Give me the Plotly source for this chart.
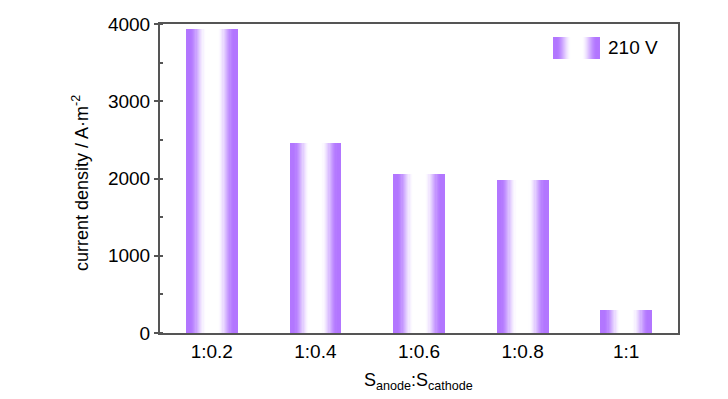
import plotly.graph_objects as go

categories = ["1:0.2", "1:0.4", "1:0.6", "1:0.8", "1:1"]
current_density = [3930, 2460, 2055, 1980, 300]
series_name = "210 V"
y_ticks = [0, 1000, 2000, 3000, 4000]

EDGE = (178, 118, 255)
WHITE = (255, 255, 255)
N = 22
BAR_W = 0.5
FONT = "Liberation Sans, Arial, sans-serif"


def mix(t):
    t = min(max(t, 0), 1)
    c = [round(EDGE[i] + (WHITE[i] - EDGE[i]) * t) for i in range(3)]
    return f"rgb({c[0]},{c[1]},{c[2]})"


def band_t(k):
    d = k / (2 * N)  # distance from bar edge as a fraction of bar width
    t = (d - 0.06) / 0.32
    t = min(max(t, 0), 1)
    return t * t * (3 - 2 * t)


fig = go.Figure()
for k in range(N):
    frac = 1 - k / N
    fig.add_trace(go.Bar(
        x=categories, y=current_density, width=BAR_W * frac,
        marker=dict(color=mix(band_t(k)), line=dict(width=0)),
        name=series_name, showlegend=False,
    ))

# plot area in px: x 160..678, y 24..333
PL, PR, PT, PB = 160, 678, 24, 333
W, H = PR - PL, PB - PT


def px(x):
    return (x - PL) / W


def py(y):
    return (PB - y) / H


# gradient legend swatch (paper coords)
lx0, lx1, ly0, ly1 = px(553), px(600), py(59), py(37)
for k in range(N):
    frac = 1 - k / N
    half = (lx1 - lx0) / 2 * frac
    cx = (lx0 + lx1) / 2
    fig.add_shape(type="rect", xref="paper", yref="paper",
                  x0=cx - half, x1=cx + half, y0=ly0, y1=ly1,
                  fillcolor=mix(band_t(k)), line=dict(width=0), layer="above")
fig.add_annotation(xref="paper", yref="paper", x=px(606), y=py(48),
                   text=series_name, showarrow=False, xanchor="left",
                   yanchor="middle",
                   font=dict(family=FONT, size=19, color="black"))

# axis titles
fig.add_annotation(xref="paper", yref="paper", x=px(80), y=py(183),
                   text="current density / A·m<sup>-2</sup>", showarrow=False,
                   textangle=-90, xanchor="center", yanchor="middle",
                   font=dict(family=FONT, size=18, color="black"))
fig.add_annotation(xref="paper", yref="paper", x=px(418), y=py(381),
                   text="S<sub>anode</sub>:S<sub>cathode</sub>", showarrow=False,
                   xanchor="center", yanchor="middle",
                   font=dict(family=FONT, size=18, color="black"))

fig.update_layout(
    width=728, height=399,
    margin=dict(l=PL, r=728 - PR, t=PT, b=399 - PB, autoexpand=False),
    paper_bgcolor="white", plot_bgcolor="white",
    barmode="overlay", bargap=0,
    font=dict(family=FONT, size=19, color="black"),
    showlegend=False,
    xaxis=dict(
        range=[-0.5, 4.5], showline=True, linecolor="#555", linewidth=2,
        mirror=True, ticks="", showgrid=False, zeroline=False,
        tickfont=dict(size=19), automargin=False,
    ),
    yaxis=dict(
        range=[0, 4000], tickvals=y_ticks, showline=True, linecolor="#555",
        linewidth=2, mirror=True, ticks="outside", ticklen=4, tickwidth=1.5,
        tickcolor="#555", showgrid=False, zeroline=False,
        tickfont=dict(size=19), automargin=False,
        minor=dict(dtick=500, ticks="inside", ticklen=3, tickcolor="#555"),
    ),
)

fig.write_html(
    "out.html",
    config={"displayModeBar": False},
    post_script="document.body.style.margin='0';document.body.style.padding='0';",
)
